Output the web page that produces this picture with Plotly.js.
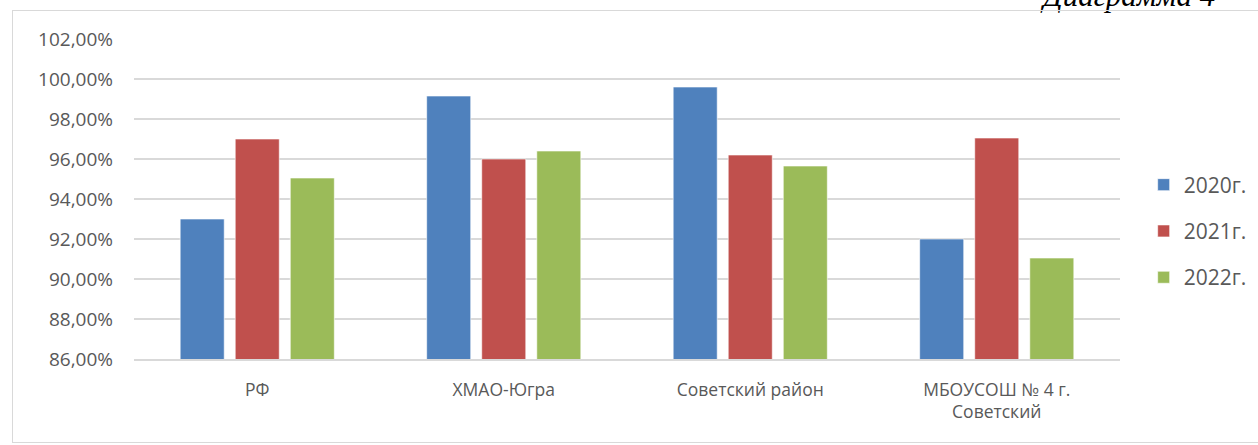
<!DOCTYPE html>
<html><head><meta charset="utf-8">
<script src="https://cdn.plot.ly/plotly-3.0.1.min.js"></script>
<style>
html,body{margin:0;padding:0;background:#fff;}
#wrap{position:relative;width:1258px;height:445px;overflow:hidden;}
#chart{position:absolute;left:0;top:0;width:1258px;height:445px;}
#frame{position:absolute;left:12px;top:10px;width:1260px;height:431px;border:1.5px solid #d9d9d9;pointer-events:none;}
</style></head>
<body><div id="wrap"><div id="chart"></div><div id="frame"></div></div>
<script>
const categories = ["РФ", "ХМАО-Югра", "Советский район", "МБОУСОШ № 4 г.<br>Советский"];
const seriesNames = ["2020г.", "2021г.", "2022г."];
const values2020 = [93.0, 99.15, 99.6, 92.0];
const values2021 = [97.0, 96.0, 96.2, 97.05];
const values2022 = [95.05, 96.4, 95.65, 91.05];
const tickValues = [86, 88, 90, 92, 94, 96, 98, 100, 102];
const tickLabels = ["86,00%", "88,00%", "90,00%", "92,00%", "94,00%", "96,00%", "98,00%", "100,00%", "102,00%"];
const colors = ["#4F81BD", "#C0504D", "#9BBB59"];
const allValues = [values2020, values2021, values2022];

const font = "Open Sans, Noto Sans, sans-serif";
const traces = allValues.map((v, i) => ({
  type: "bar", x: categories, y: v, name: seriesNames[i], legendgroup: "g" + i,
  marker: {color: colors[i], line: {color: "rgba(255,255,255,0.6)", width: 1}},
  hoverinfo: "none"
}));

const layout = {
  width: 1258, height: 445,
  margin: {l: 134, r: 138, t: 39, b: 86, autoexpand: false},
  paper_bgcolor: "#fff", plot_bgcolor: "#fff",
  barmode: "group", bargap: 0.33, bargroupgap: 0.2,
  font: {family: font, color: "#595959", size: 16},
  xaxis: {
    type: "category", showgrid: false, zeroline: false,
    showline: true, linecolor: "#d9d9d9", linewidth: 1.5,
    ticks: "", ticklabelstandoff: 14,
    tickfont: {family: font, size: 17.5, color: "#595959"}
  },
  yaxis: {
    range: [86, 102], tickmode: "array", tickvals: tickValues, ticktext: tickLabels,
    showgrid: true, gridcolor: "#d9d9d9", gridwidth: 1.5, zeroline: false,
    showline: false, ticks: "", ticklabelstandoff: 20,
    tickfont: {family: font, size: 19, color: "#595959"}
  },
  showlegend: true,
  legend: {
    x: 1.024, y: 0.4, xanchor: "left", yanchor: "middle",
    font: {family: font, size: 21, color: "#595959"},
    tracegroupgap: 16, traceorder: "grouped", bgcolor: "rgba(0,0,0,0)"
  },
  annotations: [{
    text: "<i>Диаграмма 4</i>", xref: "paper", yref: "paper",
    x: 1.008, y: 1.137, xanchor: "center", yanchor: "middle", showarrow: false,
    font: {family: "Liberation Serif, serif", size: 31, color: "#000"}
  }]
};

Plotly.newPlot("chart", traces, layout, {staticPlot: true, displayModeBar: false});
</script></body></html>
